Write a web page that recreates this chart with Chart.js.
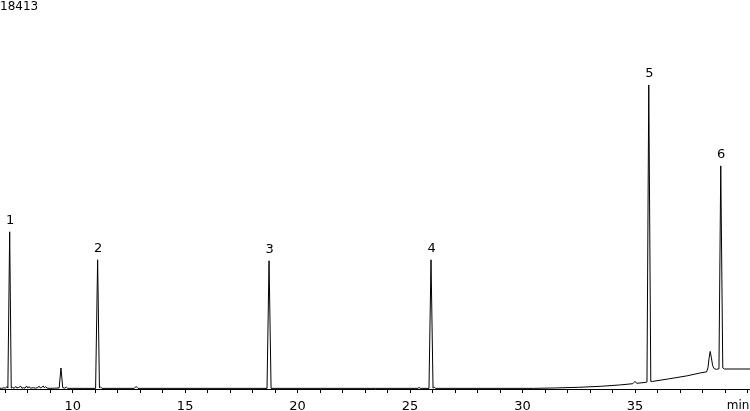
<html>
<head>
<meta charset="UTF-8">
<script src="https://cdn.jsdelivr.net/npm/chart.js@4.4.1/dist/chart.umd.min.js"></script>
<style>
body { margin: 0; background: #fff; }
#wrap { width: 750px; height: 411px; position: relative; }
</style>
</head>
<body>
<div id="wrap"><canvas id="chrom"></canvas></div>

<script>
// retention time (min) and detector signal
var retentionTimes = [
	6.77, 6.85, 6.95, 7.02, 7.07, 7.12, 7.20, 7.27, 7.33, 7.40,
	7.47, 7.52, 7.60, 7.69, 7.74, 7.82, 7.88, 7.95, 8.00, 8.07,
	8.12, 8.25, 8.35, 8.45, 8.51, 8.56, 8.63, 8.69, 8.74, 8.80,
	8.86, 9.00, 9.20, 9.40, 9.48, 9.56, 9.65, 9.72, 9.78, 10.50,
	11.02, 11.11, 11.19, 11.24, 11.30, 12.74, 12.82, 12.90, 18.64, 18.73,
	18.82, 25.35, 25.40, 25.45, 25.84, 25.93, 26.02, 26.08, 26.14, 30.50,
	31.50, 32.50, 33.50, 34.30, 34.90, 35.00, 35.07, 35.45, 35.53, 35.61,
	35.70, 35.78, 36.50, 37.30, 37.90, 38.18, 38.24, 38.29, 38.34, 38.39,
	38.45, 38.52, 38.62, 38.73, 38.81, 38.90, 38.98, 40.11
];
var signalValues = [
	40, 30, 60, 40, 110, 40, 7440, 40, 80, 30,
	120, 50, 70, 130, 40, 60, 40, 140, 50, 110,
	40, 60, 40, 70, 130, 50, 80, 140, 60, 110,
	40, 30, 40, 50, 993, 60, 40, 90, 30, 30,
	30, 6116, 60, 100, 30, 30, 120, 30, 30, 6069,
	30, 30, 80, 30, 30, 6116, 40, 80, 30, 30,
	50, 80, 130, 190, 250, 360, 270, 310, 330, 14393,
	360, 360, 480, 620, 760, 810, 1000, 1450, 1778, 1500,
	1100, 960, 930, 960, 10562, 1000, 946, 946
];
var peakNames = ['1', '2', '3', '4', '5', '6'];
var peakTimes = [7.20, 11.11, 18.73, 25.93, 35.61, 38.81];
var yTop = 18413;
var xMin = 6.77, xMax = 40.11;

var points = [];
for (var i = 0; i < retentionTimes.length; i++)
	points.push({x: retentionTimes[i], y: signalValues[i]});

var fam = '"DejaVu Sans", sans-serif';

// peak numbers, full-scale value and the unit
const annot = {
	id: 'annot',
	afterDatasetsDraw(chart) {
		var ctx = chart.ctx, xs = chart.scales.x, ys = chart.scales.y;
		ctx.save();
		ctx.fillStyle = '#000';
		ctx.font = '13px ' + fam;
		ctx.textAlign = 'center';
		ctx.textBaseline = 'alphabetic';
		for (var k = 0; k < peakNames.length; k++) {
			var idx = retentionTimes.indexOf(peakTimes[k]);
			var px = xs.getPixelForValue(peakTimes[k]);
			var py = ys.getPixelForValue(signalValues[idx]);
			ctx.fillText(peakNames[k], px + 0.5, py - 8);
		}
		ctx.font = '12px ' + fam;
		ctx.textAlign = 'left';
		ctx.textBaseline = 'top';
		ctx.fillText(String(yTop), 0, 1);
		ctx.textAlign = 'center';
		ctx.fillText('min', 738, xs.top + 11);
		ctx.restore();
	}
};

new Chart(document.getElementById('chrom'), {
	type: 'line',
	data: {
		datasets: [{
			data: points,
			borderColor: '#000',
			borderWidth: 1,
			pointRadius: 0,
			pointHoverRadius: 0,
			tension: 0,
			fill: false
		}]
	},
	options: {
		responsive: true,
		maintainAspectRatio: false,
		animation: false,
		layout: { padding: 0, autoPadding: false },
		plugins: { legend: { display: false }, tooltip: { enabled: false } },
		scales: {
			x: {
				type: 'linear',
				min: xMin,
				max: xMax,
				afterFit: function(s) {
					s.height = 22;
					s.paddingLeft = 0;
					s.paddingRight = 0;
				},
				border: { display: true, color: '#000', width: 1 },
				grid: { drawOnChartArea: false, tickLength: 4, color: '#000' },
				ticks: {
					stepSize: 1,
					includeBounds: false,
					autoSkip: false,
					maxRotation: 0,
					padding: 6,
					color: '#000',
					font: { family: fam, size: 13 },
					callback: function(v) { return (v % 5 === 0 && v < 40) ? String(v) : ''; }
				}
			},
			y: { display: false, min: 0, max: yTop }
		}
	},
	plugins: [annot]
});
</script>
</body>
</html>
